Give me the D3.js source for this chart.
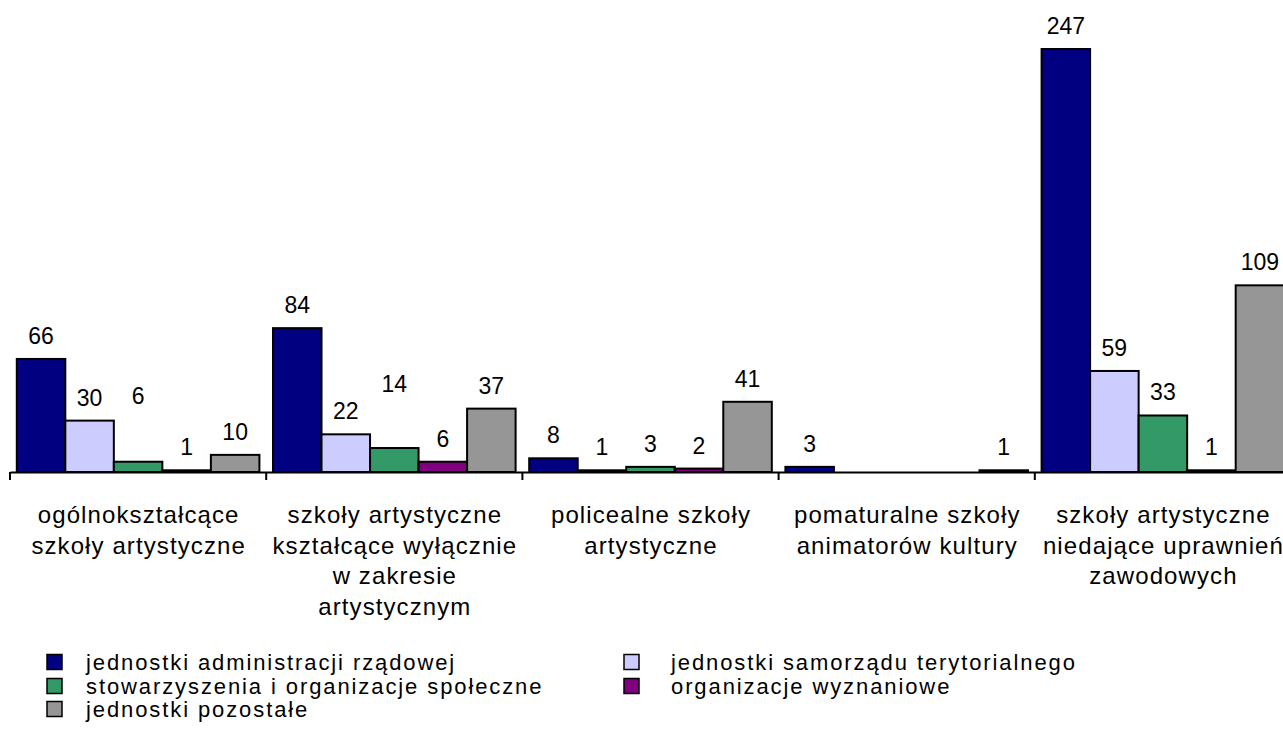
<!DOCTYPE html>
<html><head><meta charset="utf-8">
<script src="https://cdn.jsdelivr.net/npm/d3@7"></script>
<style>
html,body{margin:0;padding:0;background:#fff;}
svg{display:block;font-family:"Liberation Sans",Arial,sans-serif;}
</style></head><body>
<svg id="chart" width="1283" height="733"></svg>
<script>
const categories = [
  ["ogólnokształcące", "szkoły artystyczne"],
  ["szkoły artystyczne", "kształcące wyłącznie", "w zakresie", "artystycznym"],
  ["policealne szkoły", "artystyczne"],
  ["pomaturalne szkoły", "animatorów kultury"],
  ["szkoły artystyczne", "niedające uprawnień", "zawodowych"]
];
const seriesNames = [
  "jednostki administracji rządowej",
  "jednostki samorządu terytorialnego",
  "stowarzyszenia i organizacje społeczne",
  "organizacje wyznaniowe",
  "jednostki pozostałe"
];
const adminRzad   = [66, 84, 8, 3, 247];
const samorzad    = [30, 22, 1, null, 59];
const stowarzysz  = [6, 14, 3, null, 33];
const wyznaniowe  = [1, 6, 2, null, 1];
const pozostale   = [10, 37, 41, 1, 109];
const seriesValues = [adminRzad, samorzad, stowarzysz, wyznaniowe, pozostale];
const colors = ["#000080", "#CCCCFF", "#339966", "#800080", "#969696"];

const svg = d3.select("#chart");
const FS = 24, LS = 1.1, NFS = 23, LFS = 22, LLS = 1.9;
const baseY = 472, topY = 49;
const x0 = d3.scaleBand().domain(d3.range(categories.length)).range([10, 10 + 5 * 256.2]).padding(0);
const x1 = d3.scaleBand().domain(d3.range(seriesNames.length)).range([0, x0.bandwidth()]).paddingInner(0).paddingOuter(0.14);
const y = d3.scaleLinear().domain([0, 247]).range([baseY, topY]);

// label lift overrides (labels moved up in the original)
const labelLift = {"0-2": 43, "1-2": 41};

const g = svg.append("g");
categories.forEach((c, ci) => {
  seriesValues.forEach((vals, si) => {
    const v = vals[ci];
    if (v == null) return;
    const bx = x0(ci) + x1(si);
    g.append("rect")
      .attr("x", bx).attr("y", y(v))
      .attr("width", x1.bandwidth()).attr("height", Math.max(0, baseY - y(v)))
      .attr("fill", colors[si]).attr("stroke", "#000").attr("stroke-width", 2);
    const lift = labelLift[ci + "-" + si] || 0;
    g.append("text")
      .attr("x", bx + x1.bandwidth() / 2).attr("y", y(v) - 15 - lift)
      .attr("text-anchor", "middle").attr("font-size", NFS).attr("fill", "#000")
      .text(v);
  });
});

// axis
const axis = d3.axisBottom(x0).tickValues([]).tickSizeOuter(0);
const ax = svg.append("g").attr("transform", `translate(0,${baseY})`).call(axis);
ax.select(".domain").attr("stroke", "#000").attr("stroke-width", 2);
const bounds = d3.range(categories.length + 1).map(i => x0.range()[0] + i * x0.step());
ax.selectAll(".bt").data(bounds).enter().append("line").attr("class", "bt")
  .attr("x1", d => d).attr("x2", d => d).attr("y1", 0).attr("y2", 8)
  .attr("stroke", "#000").attr("stroke-width", 2);

// category labels
categories.forEach((lines, ci) => {
  const t = svg.append("text").attr("text-anchor", "middle").attr("font-size", FS)
    .attr("letter-spacing", LS).attr("fill", "#000");
  lines.forEach((ln, li) => {
    t.append("tspan").attr("x", x0(ci) + x0.bandwidth() / 2 + LS / 2).attr("y", 523 + li * 30.5).text(ln);
  });
});

// legend
const legPos = [[47, 662, 86], [624, 662, 671], [47, 686, 86], [624, 686, 671], [47, 709, 86]];
seriesNames.forEach((n, i) => {
  const [lx, ly, tx] = legPos[i];
  svg.append("rect").attr("x", lx).attr("y", ly - 7.5).attr("width", 15).attr("height", 15)
    .attr("fill", colors[i]).attr("stroke", "#000").attr("stroke-width", 1.5);
  svg.append("text").attr("x", tx).attr("y", ly + 8).attr("font-size", LFS)
    .attr("letter-spacing", LLS).attr("fill", "#000").text(n);
});
</script>
</body></html>
